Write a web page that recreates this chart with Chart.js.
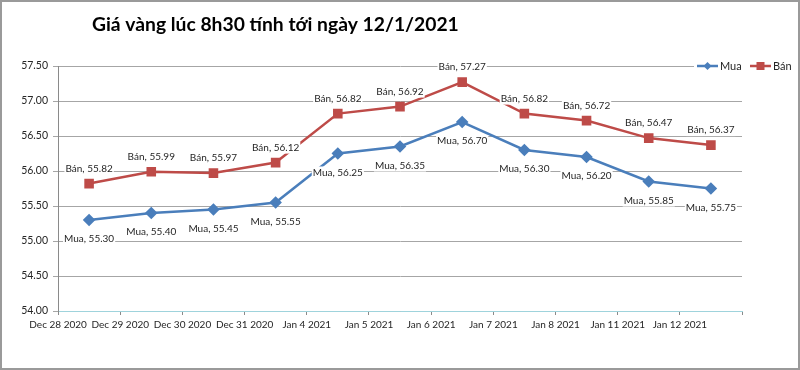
<!DOCTYPE html>
<html><head><meta charset="utf-8">
<script src="https://cdn.jsdelivr.net/npm/chart.js@4"></script>
<style>html,body{margin:0;padding:0;background:#fff}#wrap{width:800px;height:370px;position:relative}</style>
</head><body><div id="wrap"><canvas id="c" width="800" height="370"></canvas></div>
<script>
const titleText = "Giá vàng lúc 8h30 tính tới ngày 12/1/2021";
const categories = ["Dec 28 2020","Dec 29 2020","Dec 30 2020","Dec 31 2020","Jan 4 2021","Jan 5 2021","Jan 6 2021","Jan 7 2021","Jan 8 2021","Jan 11 2021","Jan 12 2021"];
const muaValues = [55.30,55.40,55.45,55.55,56.25,56.35,56.70,56.30,56.20,55.85,55.75];
const banValues = [55.82,55.99,55.97,56.12,56.82,56.92,57.27,56.82,56.72,56.47,56.37];
const seriesNames = ["Mua","Bán"];
const yTicks = [54.00,54.50,55.00,55.50,56.00,56.50,57.00,57.50];

const FONT = "Lato, 'Liberation Sans', sans-serif";
const BLUE = "#4a7ebb", RED = "#be4b48";

const decor = {
  id: 'decor',
  beforeDraw(chart){
    const ctx = chart.ctx;
    ctx.save();
    ctx.fillStyle = '#fff';
    ctx.fillRect(0,0,chart.width,chart.height);
    ctx.restore();
  },
  afterDatasetsDraw(chart){
    const ctx = chart.ctx;
    ctx.save();
    // data labels
    ctx.font = "10px " + FONT;
    ctx.textAlign = 'center';
    ctx.textBaseline = 'middle';
    chart.data.datasets.forEach((ds, di) => {
      const meta = chart.getDatasetMeta(di);
      meta.data.forEach((pt, i) => {
        const txt = ds.label + ", " + ds.data[i].toFixed(2);
        const y = pt.y + (di === 0 ? 19 : -15);
        const w = ctx.measureText(txt).width;
        ctx.fillStyle = '#fff';
        ctx.fillRect(pt.x - w/2 - 1, y - 6, w + 2, 12);
        ctx.fillStyle = '#262626';
        ctx.fillText(txt, pt.x, y);
      });
    });
    // legend
    const ly = chart.chartArea.top;
    ctx.fillStyle = '#fff';
    ctx.fillRect(694, ly - 7, 104, 14);
    const items = [{x:697, c:BLUE, s:'diamond', t:chart.data.datasets[0].label},{x:750, c:RED, s:'square', t:chart.data.datasets[1].label}];
    items.forEach(it => {
      ctx.strokeStyle = it.c; ctx.lineWidth = 2.5;
      ctx.beginPath(); ctx.moveTo(it.x, ly); ctx.lineTo(it.x+21, ly); ctx.stroke();
      ctx.fillStyle = it.c;
      const cx = it.x + 10.5;
      if (it.s === 'diamond') {
        ctx.beginPath(); ctx.moveTo(cx, ly-4); ctx.lineTo(cx+4, ly); ctx.lineTo(cx, ly+4); ctx.lineTo(cx-4, ly); ctx.closePath(); ctx.fill();
      } else {
        ctx.fillRect(cx-4, ly-4, 8, 8);
      }
      ctx.fillStyle = '#262626';
      ctx.font = "11px " + FONT;
      ctx.textAlign = 'left';
      ctx.fillText(it.t, it.x + 23, ly);
    });
    // title
    ctx.font = "bold 19.3px " + FONT;
    ctx.textAlign = 'left';
    ctx.fillStyle = '#000';
    ctx.fillText(titleText, 92, 25);
    // border
    ctx.strokeStyle = '#9a9a9a';
    ctx.lineWidth = 2;
    ctx.strokeRect(1, 1, chart.width - 2, chart.height - 2);
    ctx.restore();
  }
};

new Chart(document.getElementById('c'), {
  type: 'line',
  data: {
    labels: categories,
    datasets: [
      { label: seriesNames[0], data: muaValues, borderColor: BLUE, backgroundColor: BLUE, borderWidth: 2.5,
        pointStyle: 'rectRot', pointRadius: 4.5, pointHoverRadius: 4.5, tension: 0 },
      { label: seriesNames[1], data: banValues, borderColor: RED, backgroundColor: RED, borderWidth: 2.5,
        pointStyle: 'rect', pointRadius: 5, pointHoverRadius: 5, tension: 0 }
    ]
  },
  options: {
    responsive: false,
    animation: false,
    events: [],
    layout: { padding: { top: 66, right: 58, left: 0, bottom: 0 } },
    plugins: { legend: { display: false }, title: { display: false }, tooltip: { enabled: false } },
    scales: {
      x: {
        offset: true,
        grid: { offset: true, drawOnChartArea: false, drawTicks: true, tickLength: 4, color: '#8a8a8a' },
        border: { color: '#9fd3dc', width: 1 },
        ticks: { font: { family: FONT, size: 10 }, color: '#262626', maxRotation: 0, autoSkip: false, labelOffset: -31, padding: 4 },
        afterFit(s){ s.height = 59; }
      },
      y: {
        min: 54, max: 57.5,
        afterBuildTicks(s){ s.ticks = yTicks.map(v => ({ value: v })); },
        grid: { color: '#a6a6a6', tickLength: 5, drawTicks: true },
        border: { color: '#8a8a8a', width: 1 },
        ticks: { font: { family: FONT, size: 10.5 }, color: '#262626', padding: 5, callback: v => v.toFixed(2) },
        afterFit(s){ s.width = 58; }
      }
    }
  },
  plugins: [decor]
});
</script>
</body></html>
